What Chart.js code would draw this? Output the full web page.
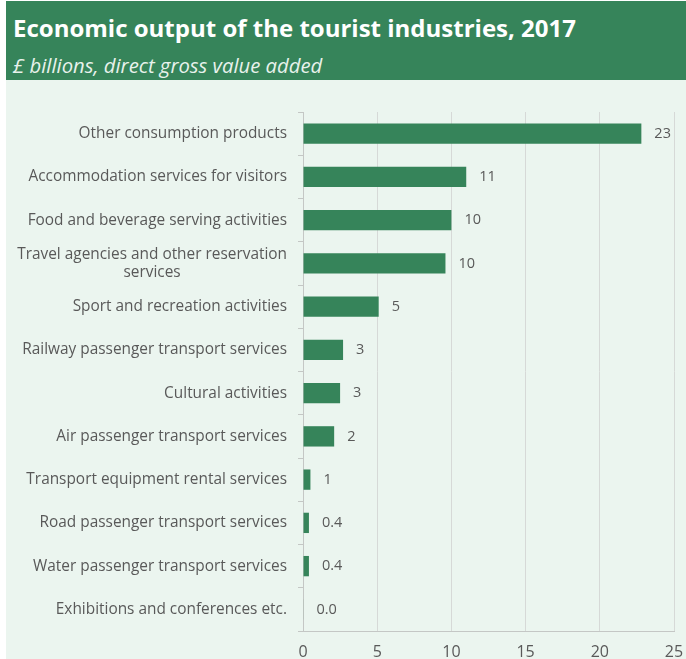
<!DOCTYPE html>
<html>
<head>
<meta charset="utf-8">
<title>Economic output of the tourist industries, 2017</title>
<script src="https://cdn.jsdelivr.net/npm/chart.js@4.4.1/dist/chart.umd.min.js"></script>
<style>
  html, body { margin: 0; padding: 0; background: #ffffff; }
  #wrap { position: relative; width: 686px; height: 659px; overflow: hidden; }
  #panel { position: absolute; left: 6px; top: 80px; right: 0; bottom: 0; background: #ebf5ef; }
  #head { position: absolute; left: 6px; top: 1px; right: 0; height: 79px; background: #36845a; color: #ffffff; font-family: "Open Sans", sans-serif; }
  #title { position: absolute; left: 7px; top: 10px; font-size: 24px; line-height: normal; font-weight: 700; white-space: nowrap; }
  #sub { position: absolute; left: 7px; top: 50px; font-size: 20.3px; line-height: normal; font-style: italic; font-weight: 400; white-space: nowrap; color: #e8f2ec; }
  #chart { position: absolute; left: 0; top: 0; }
</style>
</head>
<body>
<div id="wrap">
  <div id="panel"></div>
  <div id="head">
    <div id="title">Economic output of the tourist industries, 2017</div>
    <div id="sub">£ billions, direct gross value added</div>
  </div>
  <canvas id="chart" width="686" height="659"></canvas>
</div>
<script>
// Industry names, top to bottom
const categories = [
  "Other consumption products",
  "Accommodation services for visitors",
  "Food and beverage serving activities",
  ["Travel agencies and other reservation", "services"],
  "Sport and recreation activities",
  "Railway passenger transport services",
  "Cultural activities",
  "Air passenger transport services",
  "Transport equipment rental services",
  "Road passenger transport services",
  "Water passenger transport services",
  "Exhibitions and conferences etc."
];

// Direct gross value added, £ billions
const values = [22.8, 11.0, 10.0, 9.6, 5.1, 2.7, 2.5, 2.1, 0.5, 0.4, 0.4, 0.03];

// Value axis ticks
const xTicks = [0, 5, 10, 15, 20, 25];

const FONT = '"Open Sans", sans-serif';
const GREEN = '#36845a';
const TEXT = '#595959';

// Whole numbers from 0.5 up, one decimal below that
function formatValue(v) {
  return v >= 0.5 ? String(Math.round(v)) : v.toFixed(1);
}

// Category names, right-aligned beside the axis; wrapped names are centred on their widest line
const categoryLabels = {
  id: 'categoryLabels',
  afterDraw(chart) {
    const ctx = chart.ctx;
    const scale = chart.scales.y;
    const right = 287;
    const lineH = 18.5;
    ctx.save();
    ctx.fillStyle = TEXT;
    ctx.font = '15.4px ' + FONT;
    ctx.textBaseline = 'middle';
    scale.ticks.forEach((t, i) => {
      const y = scale.getPixelForTick(i);
      const lab = categories[i];
      if (Array.isArray(lab)) {
        const w = Math.max(...lab.map(s => ctx.measureText(s).width));
        ctx.textAlign = 'center';
        const cx = right - w / 2;
        const y0 = y - (lab.length - 1) * lineH / 2;
        lab.forEach((s, k) => ctx.fillText(s, cx, y0 + k * lineH));
      } else {
        ctx.textAlign = 'right';
        ctx.fillText(lab, right, y);
      }
    });
    ctx.restore();
  }
};

// Value printed just past the end of each bar
const barValues = {
  id: 'barValues',
  afterDatasetsDraw(chart) {
    const ctx = chart.ctx;
    const meta = chart.getDatasetMeta(0);
    ctx.save();
    ctx.fillStyle = TEXT;
    ctx.font = '14.5px ' + FONT;
    ctx.textAlign = 'left';
    ctx.textBaseline = 'middle';
    meta.data.forEach((bar, i) => {
      ctx.fillText(formatValue(values[i]), bar.x + 13, bar.y);
    });
    ctx.restore();
  }
};

new Chart(document.getElementById('chart'), {
  type: 'bar',
  data: {
    labels: categories,
    datasets: [{
      data: values,
      backgroundColor: GREEN,
      borderWidth: 0,
      categoryPercentage: 1,
      barPercentage: 0.47
    }]
  },
  options: {
    indexAxis: 'y',
    responsive: false,
    animation: false,
    events: [],
    layout: { padding: { top: 112, right: 12, left: 0, bottom: 0 } },
    plugins: { legend: { display: false }, tooltip: { enabled: false }, title: { display: false } },
    scales: {
      x: {
        min: 0,
        max: 25,
        afterBuildTicks(s) { s.ticks = xTicks.map(v => ({ value: v })); },
        ticks: { color: TEXT, font: { family: FONT, size: 16 }, padding: 12, maxRotation: 0 },
        grid: { color: '#d6d9d7', lineWidth: 1, drawTicks: false },
        border: { color: '#c4c7c5', width: 1 },
        afterFit(s) { s.height = 28; s.paddingLeft = 0; s.paddingRight = 0; }
      },
      y: {
        ticks: { display: false },
        grid: { drawOnChartArea: false, drawTicks: true, tickLength: 5, color: '#c4c7c5', offset: true },
        border: { color: '#c4c7c5', width: 1 },
        afterFit(s) { s.width = 303; }
      }
    }
  },
  plugins: [categoryLabels, barValues]
});
</script>
</body>
</html>
